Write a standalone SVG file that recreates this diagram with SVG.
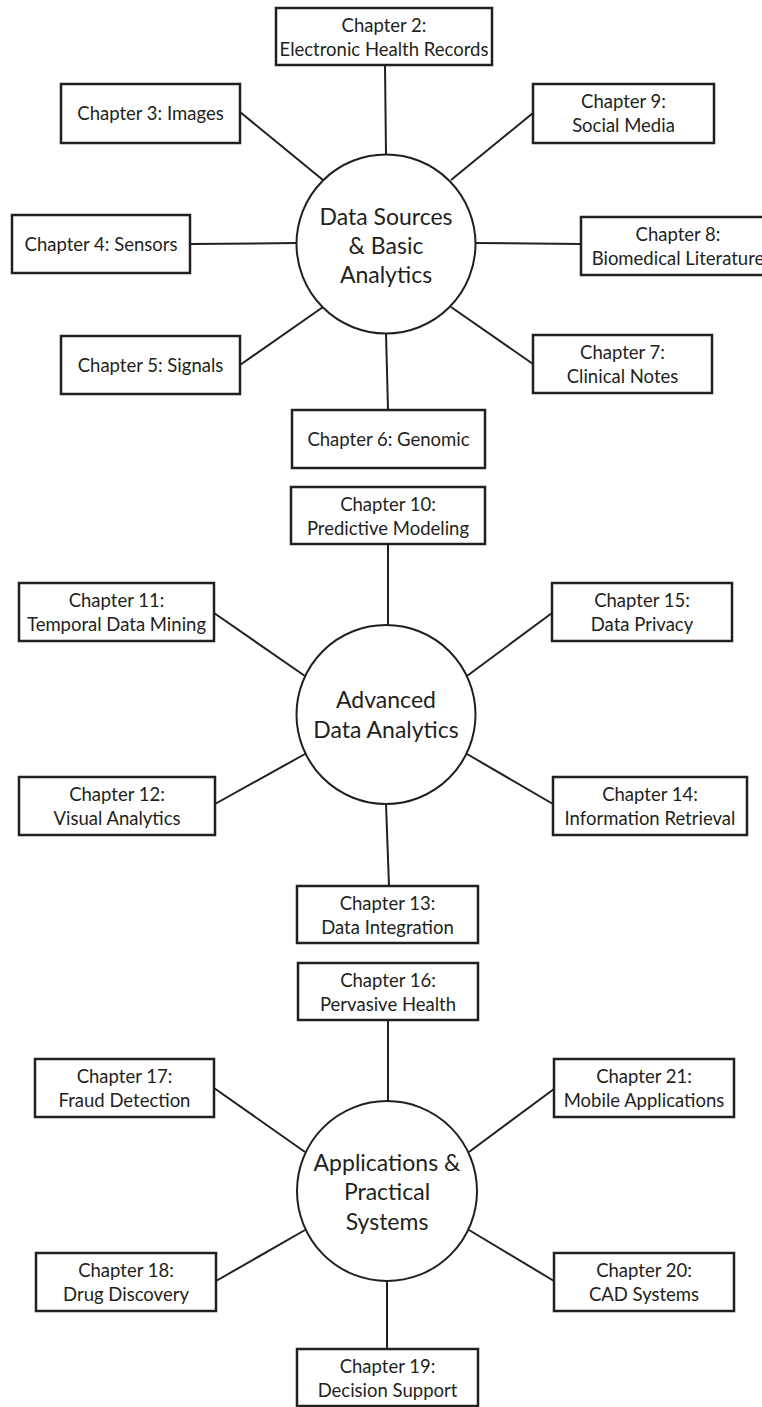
<svg xmlns="http://www.w3.org/2000/svg" width="762" height="1407" viewBox="0 0 762 1407">
<style>
.box{fill:#fff;stroke:#231f20;stroke-width:2.5}
.hub{fill:#fff;stroke:#231f20;stroke-width:2}
.ln{stroke:#231f20;stroke-width:2;fill:none}
text{font-family:Lato,"Open Sans","Liberation Sans",sans-serif;fill:#231f20;text-anchor:middle}
.t{font-size:18.5px}
.h{font-size:23px}
</style>
<rect width="762" height="1407" fill="#fff"/>
<g id="connectors">
<line class="ln" x1="385" y1="65" x2="386" y2="155"/>
<line class="ln" x1="240" y1="112" x2="323" y2="180"/>
<line class="ln" x1="533" y1="113" x2="451" y2="180"/>
<line class="ln" x1="190" y1="244" x2="297" y2="243"/>
<line class="ln" x1="475" y1="243" x2="581" y2="244"/>
<line class="ln" x1="240" y1="365" x2="323" y2="307"/>
<line class="ln" x1="533" y1="364" x2="451" y2="307"/>
<line class="ln" x1="386" y1="333" x2="388" y2="410"/>
<line class="ln" x1="388" y1="544" x2="388" y2="625"/>
<line class="ln" x1="214" y1="613" x2="305" y2="676"/>
<line class="ln" x1="552" y1="613" x2="467" y2="676"/>
<line class="ln" x1="215" y1="804" x2="305" y2="754"/>
<line class="ln" x1="553" y1="804" x2="467" y2="754"/>
<line class="ln" x1="386" y1="804" x2="389" y2="886"/>
<line class="ln" x1="388" y1="1020" x2="388" y2="1101"/>
<line class="ln" x1="214" y1="1088" x2="305" y2="1152"/>
<line class="ln" x1="554" y1="1089" x2="469" y2="1152"/>
<line class="ln" x1="216" y1="1281" x2="305" y2="1230"/>
<line class="ln" x1="554" y1="1281" x2="469" y2="1230"/>
<line class="ln" x1="387" y1="1281" x2="387" y2="1349"/>
</g>
<g id="hub1"><circle class="hub" cx="386" cy="244" r="89.5"/><text class="h" x="386" y="225">Data Sources</text><text class="h" x="386" y="254">&amp; Basic</text><text class="h" x="386" y="283">Analytics</text></g>
<g id="hub2"><circle class="hub" cx="386" cy="714.5" r="89.5"/><text class="h" x="386" y="708">Advanced</text><text class="h" x="386" y="738">Data Analytics</text></g>
<g id="hub3"><circle class="hub" cx="387" cy="1191" r="90"/><text class="h" x="387" y="1171">Applications &amp;</text><text class="h" x="387" y="1200">Practical</text><text class="h" x="387" y="1230">Systems</text></g>
<g id="ch2"><rect class="box" x="276" y="8" width="216" height="57"/><text class="t" x="384" y="32">Chapter 2:</text><text class="t" x="384" y="56">Electronic Health Records</text></g>
<g id="ch3"><rect class="box" x="61" y="84" width="179" height="59"/><text class="t" x="150.5" y="120">Chapter 3: Images</text></g>
<g id="ch9"><rect class="box" x="533" y="84" width="181" height="59"/><text class="t" x="623.5" y="108">Chapter 9:</text><text class="t" x="623.5" y="132">Social Media</text></g>
<g id="ch4"><rect class="box" x="12" y="215" width="178" height="58"/><text class="t" x="101" y="251">Chapter 4: Sensors</text></g>
<g id="ch8"><rect class="box" x="581" y="217" width="200" height="58"/><text class="t" x="678" y="241">Chapter 8:</text><text class="t" x="678" y="265">Biomedical Literature</text></g>
<g id="ch5"><rect class="box" x="61" y="336" width="179" height="58"/><text class="t" x="150.5" y="372">Chapter 5: Signals</text></g>
<g id="ch7"><rect class="box" x="533" y="335" width="179" height="58"/><text class="t" x="622.5" y="359">Chapter 7:</text><text class="t" x="622.5" y="383">Clinical Notes</text></g>
<g id="ch6"><rect class="box" x="292" y="410" width="193" height="58"/><text class="t" x="388.5" y="446">Chapter 6: Genomic</text></g>
<g id="ch10"><rect class="box" x="291" y="487" width="194" height="57"/><text class="t" x="388" y="511">Chapter 10:</text><text class="t" x="388" y="535">Predictive Modeling</text></g>
<g id="ch11"><rect class="box" x="19" y="583" width="195" height="58"/><text class="t" x="116.5" y="607">Chapter 11:</text><text class="t" x="116.5" y="631">Temporal Data Mining</text></g>
<g id="ch15"><rect class="box" x="552" y="583" width="180" height="58"/><text class="t" x="642" y="607">Chapter 15:</text><text class="t" x="642" y="631">Data Privacy</text></g>
<g id="ch12"><rect class="box" x="19" y="777" width="196" height="58"/><text class="t" x="117" y="801">Chapter 12:</text><text class="t" x="117" y="825">Visual Analytics</text></g>
<g id="ch14"><rect class="box" x="553" y="777" width="194" height="58"/><text class="t" x="650" y="801">Chapter 14:</text><text class="t" x="650" y="825">Information Retrieval</text></g>
<g id="ch13"><rect class="box" x="297" y="886" width="181" height="57"/><text class="t" x="387.5" y="910">Chapter 13:</text><text class="t" x="387.5" y="934">Data Integration</text></g>
<g id="ch16"><rect class="box" x="298" y="963" width="180" height="57"/><text class="t" x="388" y="987">Chapter 16:</text><text class="t" x="388" y="1011">Pervasive Health</text></g>
<g id="ch17"><rect class="box" x="35" y="1059" width="179" height="58"/><text class="t" x="124.5" y="1083">Chapter 17:</text><text class="t" x="124.5" y="1107">Fraud Detection</text></g>
<g id="ch21"><rect class="box" x="554" y="1059" width="180" height="58"/><text class="t" x="644" y="1083">Chapter 21:</text><text class="t" x="644" y="1107">Mobile Applications</text></g>
<g id="ch18"><rect class="box" x="36" y="1253" width="180" height="58"/><text class="t" x="126" y="1277">Chapter 18:</text><text class="t" x="126" y="1301">Drug Discovery</text></g>
<g id="ch20"><rect class="box" x="554" y="1253" width="180" height="58"/><text class="t" x="644" y="1277">Chapter 20:</text><text class="t" x="644" y="1301">CAD Systems</text></g>
<g id="ch19"><rect class="box" x="297" y="1349" width="181" height="57"/><text class="t" x="387.5" y="1373">Chapter 19:</text><text class="t" x="387.5" y="1397">Decision Support</text></g>
</svg>
